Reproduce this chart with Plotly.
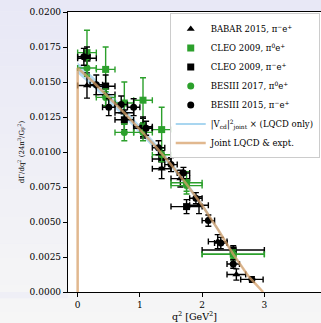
import plotly.graph_objects as go

# ---------------- data ----------------
babar_q2 = [0.15, 0.45, 0.75, 1.05, 1.35, 1.65, 1.95, 2.25, 2.55]
babar_q2err = [0.15, 0.15, 0.15, 0.15, 0.15, 0.15, 0.15, 0.15, 0.15]
babar_val = [0.01475, 0.0141, 0.0128, 0.0117, 0.0088, 0.0081, 0.0062, 0.0036, 0.00125]
babar_err = [0.0009, 0.0008, 0.0008, 0.0007, 0.0007, 0.0006, 0.0006, 0.0005, 0.0004]

cleo0_q2 = [0.15, 0.45, 0.75, 1.05, 1.35, 1.75, 2.5]
cleo0_q2err = [0.15, 0.15, 0.15, 0.15, 0.15, 0.25, 0.5]
cleo0_val = [0.0171, 0.0159, 0.0135, 0.0137, 0.0116, 0.0078, 0.0027]
cleo0_err = [0.0016, 0.0016, 0.0015, 0.0016, 0.0016, 0.0008, 0.0004]

cleom_q2 = [0.15, 0.45, 0.75, 1.05, 1.35, 1.75, 2.5]
cleom_q2err = [0.15, 0.15, 0.15, 0.15, 0.15, 0.25, 0.5]
cleom_val = [0.0167, 0.0147, 0.0123, 0.0118, 0.0095, 0.0061, 0.0030]
cleom_err = [0.0008, 0.0008, 0.0007, 0.0007, 0.0006, 0.0005, 0.0003]

bes17_q2 = [0.15, 0.45, 0.75, 1.05, 1.35, 1.75, 2.5]
bes17_q2err = [0.15, 0.15, 0.15, 0.15, 0.15, 0.25, 0.5]
bes17_val = [0.0160, 0.0139, 0.0114, 0.0114, 0.0098, 0.0076, 0.0027]
bes17_err = [0.0006, 0.0006, 0.0006, 0.0006, 0.0005, 0.0004, 0.0003]

bes15_q2 = [0.1, 0.3, 0.5, 0.7, 0.9, 1.1, 1.3, 1.5, 1.7, 1.9, 2.1, 2.3, 2.5, 2.8]
bes15_q2err = [0.1, 0.1, 0.1, 0.1, 0.1, 0.1, 0.1, 0.1, 0.1, 0.1, 0.1, 0.1, 0.1, 0.18]
bes15_val = [0.0168, 0.0148, 0.0132, 0.0134, 0.0132, 0.0117, 0.0103, 0.0091, 0.0085,
             0.0067, 0.0051, 0.0035, 0.0020, 0.0009]
bes15_err = [0.0006, 0.0007, 0.0006, 0.0006, 0.0006, 0.0005, 0.0005, 0.0005, 0.0004,
             0.0004, 0.0004, 0.0004, 0.0003, 0.0002]

curve_q2 = [0.0, 0.0, 0.25, 0.5, 0.75, 1.0, 1.25, 1.5, 1.75, 2.0, 2.25, 2.5, 2.75, 2.98]
curve_val = [0.0, 0.0160, 0.0150, 0.0139, 0.0128, 0.0116, 0.0104, 0.0091, 0.0077,
             0.0062, 0.0045, 0.0027, 0.0011, 0.0]
lqcd_rel_err = 0.025

x_ticks = [0, 1, 2, 3]
y_ticks = [0.0, 0.0025, 0.005, 0.0075, 0.01, 0.0125, 0.015, 0.0175, 0.02]

# ---------------- figure ----------------
FONT = "DejaVu Serif"
fig = go.Figure()

# LQCD-only band
band_x = curve_q2[1:]
band_hi = [v * (1 + lqcd_rel_err) for v in curve_val[1:]]
band_lo = [v * (1 - lqcd_rel_err) for v in curve_val[1:]]
fig.add_trace(go.Scatter(x=band_x, y=band_hi, mode="lines", line=dict(width=0),
                         showlegend=False, hoverinfo="skip"))
fig.add_trace(go.Scatter(x=band_x, y=band_lo, mode="lines", line=dict(width=0),
                         fill="tonexty", fillcolor="rgba(140,200,235,0.65)",
                         showlegend=False, hoverinfo="skip"))


def add_pts(name, x, xe, y, ye, color, symbol):
    fig.add_trace(go.Scatter(
        x=x, y=y, name=name, mode="markers",
        marker=dict(color=color, symbol=symbol, size=7, line=dict(width=0)),
        error_x=dict(type="data", array=xe, color=color, thickness=1.4, width=3),
        error_y=dict(type="data", array=ye, color=color, thickness=1.4, width=3),
    ))


GREEN = "#2ca02c"
add_pts("BABAR 2015, π<sup>−</sup>e<sup>+</sup>", babar_q2, babar_q2err, babar_val, babar_err, "black", "triangle-up")
add_pts("CLEO 2009, π<sup>0</sup>e<sup>+</sup>", cleo0_q2, cleo0_q2err, cleo0_val, cleo0_err, GREEN, "square")
add_pts("CLEO 2009, π<sup>−</sup>e<sup>+</sup>", cleom_q2, cleom_q2err, cleom_val, cleom_err, "black", "square")
add_pts("BESIII 2017, π<sup>0</sup>e<sup>+</sup>", bes17_q2, bes17_q2err, bes17_val, bes17_err, GREEN, "circle")
add_pts("BESIII 2015, π<sup>−</sup>e<sup>+</sup>", bes15_q2, bes15_q2err, bes15_val, bes15_err, "black", "circle")

# legend-only line for LQCD band
fig.add_trace(go.Scatter(x=[None], y=[None], mode="lines",
                         line=dict(color="rgb(140,200,235)", width=1.5),
                         name="|V<sub>cd</sub>|<sup>2</sup><sub>joint</sub> × (LQCD only)"))
# joint curve
fig.add_trace(go.Scatter(x=curve_q2, y=curve_val, mode="lines",
                         line=dict(color="rgba(215,160,105,0.75)", width=2.5),
                         name="Joint LQCD &amp; expt."))

# background gradient (page margins)
top_c = (232, 232, 246)
bot_c = (246, 246, 246)
nb = 24
shapes = []
y0p, y1p = -0.12, 1.05
for i in range(nb):
    t = i / (nb - 1)
    c = tuple(int(round(top_c[k] + (bot_c[k] - top_c[k]) * t)) for k in range(3))
    ya = y1p - (y1p - y0p) * i / nb
    yb = y1p - (y1p - y0p) * (i + 1) / nb
    col = "rgb(%d,%d,%d)" % c
    shapes.append(dict(type="rect", xref="paper", yref="paper", x0=-0.3, x1=0,
                       y0=max(yb, 0) if ya > 0 else yb, y1=min(ya, 1) if yb < 1 else ya,
                       fillcolor=col, line=dict(width=0), layer="below"))
    if ya > 1:
        shapes.append(dict(type="rect", xref="paper", yref="paper", x0=0, x1=1.1,
                           y0=max(yb, 1), y1=ya, fillcolor=col, line=dict(width=0), layer="below"))
    if yb < 0:
        shapes.append(dict(type="rect", xref="paper", yref="paper", x0=0, x1=1.1,
                           y0=yb, y1=min(ya, 0), fillcolor=col, line=dict(width=0), layer="below"))

fig.update_layout(
    width=321, height=323,
    margin=dict(l=68, r=0, t=12, b=31),
    paper_bgcolor="rgb(239,239,246)",
    plot_bgcolor="white",
    shapes=shapes,
    font=dict(family=FONT, size=9, color="black"),
    showlegend=True,
    legend=dict(x=0.995, y=0.995, xanchor="right", yanchor="top", traceorder="normal",
                bgcolor="rgba(255,255,255,0.85)", bordercolor="#cccccc", borderwidth=1,
                font=dict(family=FONT, size=8.5), itemwidth=30, tracegroupgap=0),
    xaxis=dict(range=[-0.155, 3.91], tickvals=x_ticks, ticks="outside", ticklen=4,
               tickcolor="black", showline=True, linecolor="black", linewidth=1.2,
               mirror=True, showgrid=False, zeroline=False,
               title=dict(text="q<sup>2</sup> [GeV<sup>2</sup>]", standoff=2,
                          font=dict(family=FONT, size=9.5))),
    yaxis=dict(range=[0, 0.02], tickvals=y_ticks, tickformat=".4f", ticks="outside",
               ticklen=4, tickcolor="black", showline=True, linecolor="black",
               linewidth=1.2, mirror=False, showgrid=False, zeroline=False,
               title=dict(text="dΓ/dq<sup>2</sup> (24π<sup>3</sup>/G<sub>F</sub><sup>2</sup>)",
                          standoff=4, font=dict(family=FONT, size=7))),
)
fig.write_html("out.html", config={"displayModeBar": False},
               post_script="document.body.style.margin='0';")
